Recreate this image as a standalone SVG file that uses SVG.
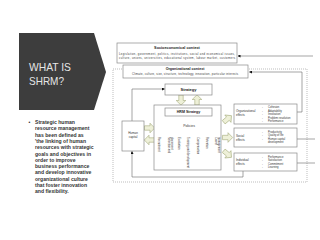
<svg xmlns="http://www.w3.org/2000/svg" xmlns:xlink="http://www.w3.org/1999/xlink" width="320" height="240" viewBox="0 0 320 240">
<style>
.box{fill:#fff;stroke:#8a8a8a;stroke-width:0.7}
.ln{fill:none;stroke:#6a6a6a;stroke-width:0.6}
.dot{fill:none;stroke:#b5b5b5;stroke-width:0.9;stroke-dasharray:1 1}
.t{font-family:"Liberation Sans",Arial,sans-serif;fill:#333}
.tb{font-family:"Liberation Sans",Arial,sans-serif;fill:#222;font-weight:bold}
.s{font-size:2.7px}
.bul{font-family:"Liberation Sans",Arial,sans-serif;font-weight:bold;font-size:5.1px;fill:#333}
.barr{fill:#eef0d8;stroke:#a3aa7a;stroke-width:0.6}
</style>
<defs>
<marker id="ah" viewBox="0 0 6 6" refX="5" refY="3" markerWidth="3" markerHeight="3" orient="auto" markerUnits="userSpaceOnUse">
<path d="M0,0 L6,3 L0,6 z" fill="#111"/>
</marker>
<polygon id="ba" points="-5,-2.2 0.5,-2.2 0.5,-4.8 5.2,0 0.5,4.8 0.5,2.2 -5,2.2"/>
</defs>
<rect width="320" height="240" fill="#fff"/>

<g id="title">
<polygon points="19,33 94,33 106,72 94,110 19,110" fill="#3d3d3d"/>
<text x="29" y="71" font-family="Liberation Sans,Arial,sans-serif" font-size="11" fill="#e6e6e6" textLength="42" lengthAdjust="spacingAndGlyphs">WHAT IS</text>
<text x="29" y="84.5" font-family="Liberation Sans,Arial,sans-serif" font-size="11" fill="#e6e6e6" textLength="35" lengthAdjust="spacingAndGlyphs">SHRM?</text>
</g>

<g id="bullet-text">
<text class="bul" x="28.5" y="124">•</text>
<text class="bul" x="35" y="124">Strategic human</text>
<text class="bul" x="35" y="130.3">resource management</text>
<text class="bul" x="35" y="136.6">has been defined as</text>
<text class="bul" x="35" y="142.9">'the linking of human</text>
<text class="bul" x="35" y="149.2">resources with strategic</text>
<text class="bul" x="35" y="155.5">goals and objectives in</text>
<text class="bul" x="35" y="161.8">order to improve</text>
<text class="bul" x="35" y="168.1">business performance</text>
<text class="bul" x="35" y="174.4">and develop innovative</text>
<text class="bul" x="35" y="180.7">organizational culture</text>
<text class="bul" x="35" y="187">that foster innovation</text>
<text class="bul" x="35" y="193.3">and flexibility.</text>
</g>

<g id="frame">
<rect class="dot" x="113" y="69" width="194" height="113"/>
</g>

<g id="connectors">
<line class="ln" x1="313" y1="56" x2="238" y2="56" marker-end="url(#ah)"/>
<path class="ln" d="M297,112 H302 V72 H249.5" marker-end="url(#ah)"/>
<path class="ln" d="M132,121 V89 H164.5" marker-end="url(#ah)"/>
<path class="ln" d="M243,171 V177 H132 V151.5" marker-end="url(#ah)"/>
<line class="ln" x1="297" y1="139" x2="315" y2="139"/>
<line class="ln" x1="297" y1="163" x2="315" y2="163"/>
<line class="ln" x1="189" y1="116" x2="189" y2="122"/>
<line class="ln" x1="189" y1="127.5" x2="189" y2="133"/>
<path class="ln" d="M159,133 H217 M159,133 V136 M170,133 V136 M179,133 V136 M188,133 V136 M198,133 V136 M207,133 V136 M217,133 V136"/>
<use xlink:href="#ba" class="barr" transform="translate(181,100) rotate(90)"/>
<use xlink:href="#ba" class="barr" transform="translate(197,100) rotate(-90)"/>
<use xlink:href="#ba" class="barr" transform="translate(149.5,128)"/>
<use xlink:href="#ba" class="barr" transform="translate(149.5,140) rotate(180)"/>
<use xlink:href="#ba" class="barr" transform="translate(227.5,119) rotate(-40)"/>
<use xlink:href="#ba" class="barr" transform="translate(227.5,137.5)"/>
<use xlink:href="#ba" class="barr" transform="translate(227.5,154) rotate(40)"/>
</g>

<g id="socioeconomical-context">
<rect class="box" x="117" y="43" width="120" height="20"/>
<text class="tb" x="177" y="49" font-size="3.8" text-anchor="middle">Socioeconomical context</text>
<text class="t s" x="119" y="54.5" textLength="116" lengthAdjust="spacing">Legislation, government, politics, institutions, social and economical issues,</text>
<text class="t s" x="119" y="58.5" textLength="116" lengthAdjust="spacing">culture, unions, universities, educational system, labour market, customers</text>
</g>

<g id="organizational-context">
<rect class="box" x="123" y="65" width="125" height="13"/>
<text class="tb" x="185" y="70" font-size="3.6" text-anchor="middle">Organizational context</text>
<text class="t s" x="132" y="75" textLength="106" lengthAdjust="spacing">Climate, culture, size, structure, technology, innovation, particular interests</text>
</g>

<g id="strategy">
<rect class="box" x="165" y="84" width="47" height="11"/>
<text class="tb" x="188.5" y="91" font-size="4" text-anchor="middle">Strategy</text>
</g>

<g id="hrm">
<rect class="box" x="154" y="105" width="67" height="65"/>
<rect class="box" x="165" y="108" width="47" height="8"/>
<text class="tb" x="188.5" y="113.3" font-size="3.6" text-anchor="middle">HRM Strategy</text>
<text class="t" x="189" y="126.5" font-size="3.4" text-anchor="middle">Policies</text>
<g class="t s">
<text transform="translate(158.2,137) rotate(90)">Recruitment</text>
<text transform="translate(168.2,137) rotate(90)">Selection and</text>
<text transform="translate(171.4,137) rotate(90)">placement</text>
<text transform="translate(178.2,137) rotate(90)">Evaluation</text>
<text transform="translate(187.2,137) rotate(90)">Training and development</text>
<text transform="translate(197.2,137) rotate(90)">Compensation</text>
<text transform="translate(206.2,137) rotate(90)">Retention</text>
<text transform="translate(215,137) rotate(90)">Career</text>
<text transform="translate(218.2,137) rotate(90)">management</text>
</g>
</g>

<g id="human-capital">
<rect class="box" x="122" y="121" width="22" height="30"/>
<text class="t" x="133" y="134" font-size="3" text-anchor="middle">Human</text>
<text class="t" x="133" y="138" font-size="3" text-anchor="middle">capital</text>
</g>

<g id="organizational-effects">
<rect class="box" x="234" y="104" width="63" height="20"/>
<text class="t" x="236" y="112" font-size="3">Organizational</text>
<text class="t" x="236" y="116" font-size="3">effects</text>
<g class="t s">
<text x="262" y="108">-</text><text x="268" y="108">Cohesion</text>
<text x="262" y="111.5">-</text><text x="268" y="111.5">Adaptability</text>
<text x="262" y="115">-</text><text x="268" y="115">Innovation</text>
<text x="262" y="118.5">-</text><text x="268" y="118.5">Problem resolution</text>
<text x="262" y="122">-</text><text x="268" y="122">Performance</text>
</g>
</g>

<g id="social-effects">
<rect class="box" x="234" y="128" width="63" height="19"/>
<text class="t" x="236" y="136.5" font-size="3">Social</text>
<text class="t" x="236" y="140.5" font-size="3">effects</text>
<g class="t s">
<text x="262" y="132.5">-</text><text x="268" y="132.5">Productivity</text>
<text x="262" y="136">-</text><text x="268" y="136">Quality of life</text>
<text x="262" y="139.5">-</text><text x="268" y="139.5">Human capital</text>
<text x="268" y="143">development</text>
</g>
</g>

<g id="individual-effects">
<rect class="box" x="234" y="153" width="63" height="18"/>
<text class="t" x="236" y="160.5" font-size="3">Individual</text>
<text class="t" x="236" y="164.5" font-size="3">effects</text>
<g class="t s">
<text x="262" y="157.5">-</text><text x="268" y="157.5">Performance</text>
<text x="262" y="161">-</text><text x="268" y="161">Satisfaction</text>
<text x="262" y="164.5">-</text><text x="268" y="164.5">Commitment</text>
<text x="262" y="168">-</text><text x="268" y="168">Learning</text>
</g>
</g>
</svg>
